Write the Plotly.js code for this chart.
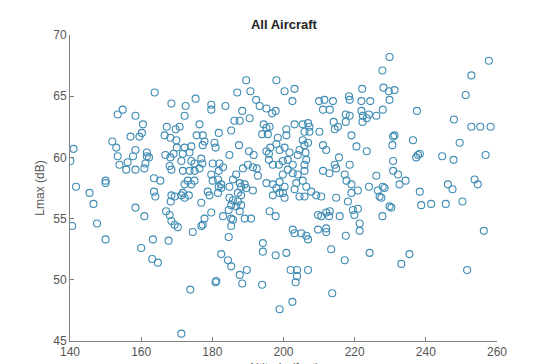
<!DOCTYPE html>
<html>
<head>
<meta charset="utf-8">
<script src="https://cdn.plot.ly/plotly-3.0.1.min.js"></script>
<style>html,body{margin:0;padding:0;background:#fff;}#chart{width:560px;height:364px;}</style>
</head>
<body>
<div id="chart"></div>
<script>
const chartTitle = "All Aircraft";
const xTitle = "Altitude (feet)";
const yTitle = "Lmax (dB)";
const xTicks = [140, 160, 180, 200, 220, 240, 260];
const yTicks = [45, 50, 55, 60, 65, 70];

const altitude = [
163.8,168.5,154.8,153.4,158.4,160.5,167.2,160.2,159.5,157.0,166.6,168.2,151.9,153.0,141.0,140.1,153.4,157.7,158.4,161.6,161.6,162.2,166.8,168.2,153.9,156.2,155.8,158.4,160.9,161.2,168.0,168.5,163.6,165.4,150.0,150.0,141.7,
145.5,146.6,140.6,147.6,150.0,158.4,160.9,163.6,164.0,168.5,168.3,167.0,168.0,168.5,163.3,160.0,167.7,163.1,164.7,171.3,
189.5,198.0,187.0,190.7,175.3,172.5,172.2,179.7,179.7,183.7,192.3,193.3,195.2,196.8,197.8,188.4,190.5,186.2,187.7,170.8,169.7,176.4,194.4,195.2,196.1,181.8,175.6,177.3,185.3,194.0,195.6,198.4,169.9,177.8,177.3,180.6,180.9,172.2,174.1,173.6,171.7,170.0,169.1,187.5,190.3,191.6,184.8,195.2,195.9,196.3,198.0,198.9,171.3,174.1,175.0,176.9,177.2,176.4,180.1,182.0,183.0,171.7,173.6,175.0,179.7,181.8,188.6,190.0,191.4,192.5,195.9,197.0,198.7,192.8,186.7,185.8,173.1,175.0,172.2,174.1,180.1,181.6,182.5,187.7,189.1,195.2,197.0,198.9,
169.4,171.3,172.2,171.7,173.4,176.9,178.7,179.2,179.7,177.8,176.9,177.3,174.5,169.4,170.3,181.8,182.5,181.6,184.8,185.8,187.2,188.1,185.3,186.7,187.7,184.6,183.0,185.3,185.8,189.1,190.9,185.3,184.6,188.1,189.5,191.4,187.2,188.1,184.8,198.0,198.9,197.0,199.8,196.1,197.8,194.2,194.2,197.8,182.5,184.4,185.3,189.7,187.7,188.4,194.0,181.1,180.9,173.8,198.9,
229.8,227.8,200.3,203.1,202.5,210.0,211.5,213.9,211.1,213.0,218.4,218.6,222.1,221.9,224.4,228.1,229.6,229.8,217.5,218.6,221.9,222.3,223.4,224.0,226.1,227.9,222.2,217.5,214.1,215.3,214.4,203.1,205.4,206.9,207.3,205.9,207.3,200.8,200.8,210.1,219.1,205.4,206.9,205.9,211.1,212.0,220.5,223.4,230.8,200.3,201.7,204.5,204.0,206.2,199.8,201.2,202.6,205.9,206.4,215.6,214.4,214.8,211.1,212.9,218.6,217.2,226.1,230.8,230.8,199.8,201.2,202.6,204.0,205.9,205.4,203.6,217.7,219.1,227.9,
257.7,252.8,251.2,231.2,237.5,247.9,252.8,255.3,258.2,231.2,230.6,236.4,249.5,237.8,238.3,237.3,244.6,247.8,256.8,232.2,234.3,232.6,246.2,253.7,254.6,
238.3,247.5,230.3,238.7,241.5,245.6,250.3,256.3,233.1,235.4,251.6,
200.3,200.3,203.1,204.5,205.9,206.4,207.8,209.2,210.6,214.8,219.1,220.9,218.1,224.0,226.5,228.4,227.0,227.5,229.8,227.8,221.4,219.5,220.9,219.9,215.8,213.0,209.7,210.6,212.0,212.8,209.7,212.0,212.0,202.6,203.1,205.0,206.4,206.9,217.5,221.4,213.4,217.2,224.2,200.8,202.0,203.8,206.9,203.8,203.4,213.7,202.5
];

const lmax = [
65.3,64.4,63.9,63.5,63.4,62.7,62.5,62.0,61.7,61.7,61.8,61.6,61.3,60.8,60.7,59.7,60.1,60.1,60.6,60.4,60.1,60.0,60.2,60.0,59.4,59.6,59.0,59.0,59.1,59.5,59.3,59.0,58.3,58.1,58.1,57.9,57.6,
57.1,56.2,54.4,54.6,53.3,55.9,55.2,57.2,56.8,56.9,56.4,55.6,55.3,54.8,53.3,52.6,53.2,51.7,51.4,45.6,
66.3,66.3,65.3,65.4,64.8,64.2,63.4,64.3,63.9,64.2,64.7,64.2,64.0,63.6,63.8,63.8,63.2,63.0,63.0,62.5,62.3,62.7,62.7,62.4,62.5,62.0,61.8,61.8,62.2,61.9,61.9,61.6,61.4,61.3,61.0,61.2,60.8,60.8,60.9,60.4,60.3,60.8,60.3,61.0,60.5,60.2,60.2,60.5,60.3,60.8,61.1,60.6,59.7,59.7,59.5,59.9,59.5,59.1,59.5,59.5,59.2,58.9,58.9,58.9,58.6,58.9,59.1,59.4,59.2,59.1,59.8,59.4,59.4,58.5,58.6,58.2,58.1,58.1,57.8,57.8,58.1,58.2,57.8,57.9,57.8,57.9,57.8,58.0,
56.8,56.9,56.7,57.1,56.9,56.3,57.2,56.9,55.5,55.0,54.4,54.5,53.9,54.5,54.3,57.6,57.5,57.1,56.7,56.5,56.4,56.1,56.1,56.0,55.6,55.7,55.2,55.0,54.9,55.0,55.0,54.4,53.5,57.6,57.5,57.3,57.1,56.9,57.6,57.5,57.1,56.9,57.1,55.6,55.2,53.0,52.3,52.0,52.1,51.6,51.1,50.8,50.4,49.7,49.6,49.9,49.8,49.2,47.6,
68.2,67.1,65.4,65.6,64.6,64.6,64.7,64.6,63.9,63.9,65.0,64.7,65.6,64.6,64.6,65.7,65.4,64.7,63.5,63.4,63.8,63.4,63.2,63.5,63.4,63.9,62.9,62.9,62.9,62.5,62.3,62.7,62.7,62.8,62.5,62.1,62.1,62.3,61.8,62.1,61.8,61.4,61.2,61.0,61.0,60.6,60.9,60.5,61.7,60.8,60.4,60.6,60.2,60.4,59.7,59.8,59.4,59.4,59.8,60.0,59.4,59.1,58.9,58.7,59.4,58.6,58.5,59.7,58.9,58.6,59.0,58.7,58.6,58.9,58.1,57.9,58.1,57.8,57.6,
67.9,66.7,65.1,65.5,63.8,63.1,62.5,62.5,62.5,61.8,61.0,61.4,61.2,60.2,60.3,60.0,60.1,59.8,60.2,58.6,58.1,57.8,57.8,58.2,57.8,
57.2,57.4,55.9,56.1,56.2,56.2,56.4,54.0,51.3,52.1,50.8,
57.6,56.7,57.4,56.8,56.8,57.6,57.2,56.9,56.8,56.7,57.1,57.3,56.4,57.6,57.3,57.5,56.8,56.7,56.0,55.2,54.6,55.7,55.8,55.3,55.2,55.6,55.3,55.2,55.5,55.2,54.1,54.2,53.9,54.1,53.8,53.8,53.6,53.3,53.6,54.0,52.5,51.6,52.2,52.2,50.8,50.8,50.8,50.3,49.8,48.9,48.2
];

const axisFont = {family: "Liberation Sans, Arial, sans-serif", size: 12, color: "#555555"};

const trace = {
  type: "scatter",
  mode: "markers",
  x: altitude,
  y: lmax,
  marker: {symbol: "circle-open", size: 7, color: "#3f8cb4", line: {width: 1.1, color: "#3f8cb4"}},
  hoverinfo: "x+y"
};

const layout = {
  width: 560,
  height: 364,
  paper_bgcolor: "#ffffff",
  plot_bgcolor: "#ffffff",
  showlegend: false,
  margin: {l: 70, r: 63, t: 35, b: 23, pad: 0},
  title: {
    text: "<b>" + chartTitle + "</b>",
    font: {family: "Liberation Sans, Arial, sans-serif", size: 13, color: "#222222"},
    xref: "container", x: 0.507, xanchor: "center",
    yref: "container", y: 0.933, yanchor: "middle"
  },
  xaxis: {
    range: [140, 260],
    tickvals: xTicks,
    ticktext: xTicks.map(String),
    ticks: "inside", ticklen: 4, tickcolor: "#808080", tickwidth: 1,
    showline: true, linecolor: "#808080", linewidth: 1, mirror: false,
    showgrid: false, zeroline: false,
    tickfont: axisFont,
    automargin: false
  },
  yaxis: {
    range: [45, 70],
    tickvals: yTicks,
    ticktext: yTicks.map(String),
    ticks: "inside", ticklen: 4, tickcolor: "#808080", tickwidth: 1,
    showline: true, linecolor: "#808080", linewidth: 1, mirror: false,
    showgrid: false, zeroline: false,
    tickfont: axisFont,
    automargin: false,
    title: {text: yTitle, font: axisFont, standoff: 6}
  },
  annotations: [{
    text: xTitle,
    xref: "paper", x: 0.5, xanchor: "center",
    yref: "paper", y: -0.06, yanchor: "top",
    showarrow: false,
    font: axisFont
  }]
};

Plotly.newPlot("chart", [trace], layout, {staticPlot: true, displayModeBar: false});
</script>
</body>
</html>
